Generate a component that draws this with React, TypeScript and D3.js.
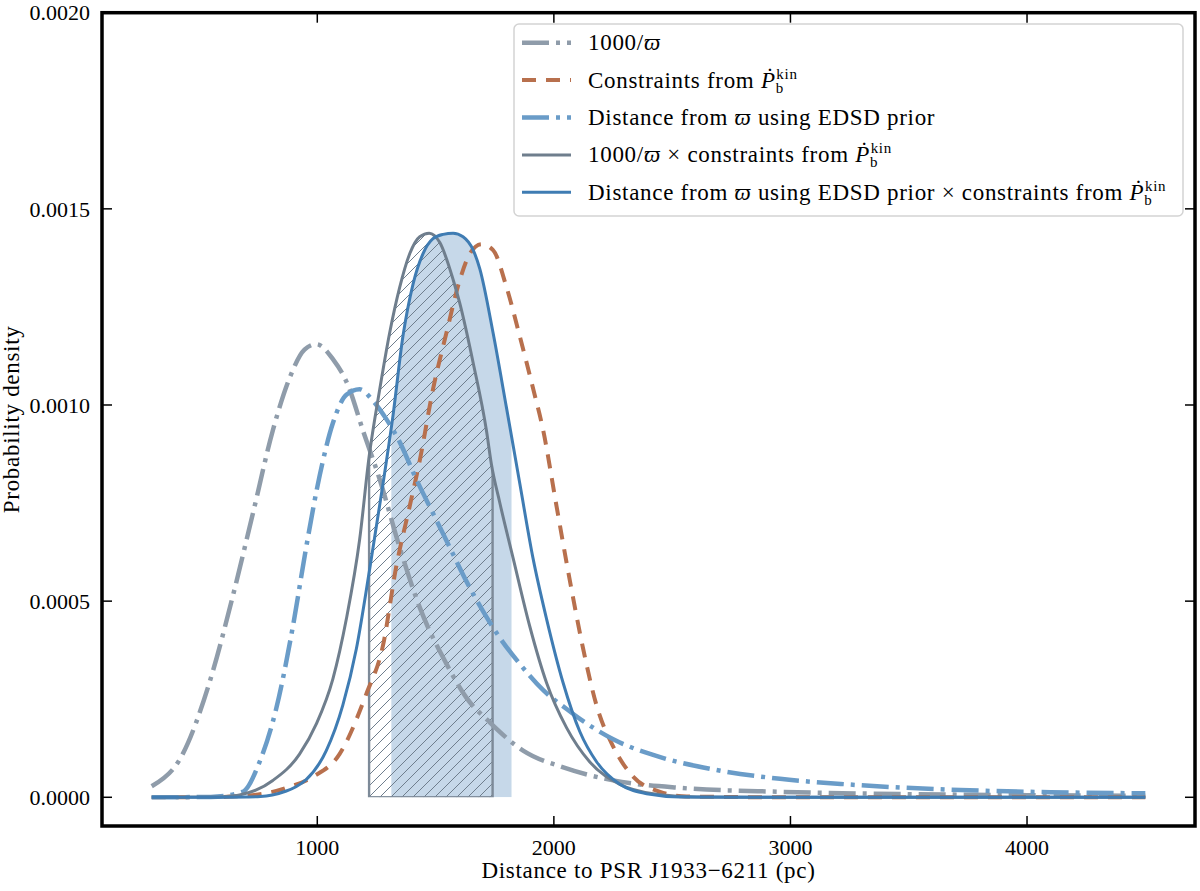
import * as d3 from "d3";

// distance (pc), probability density
const invParallax: [number, number][] = [
  [300, 0.000028], [431, 0.00011], [544, 0.000292], [643, 0.000513], [728, 0.000724],
  [812, 0.000935], [883, 0.001069], [946, 0.001141], [996, 0.001155], [1066, 0.001117],
  [1130, 0.00105], [1193, 0.000935], [1264, 0.00081], [1348, 0.000637], [1433, 0.000484],
  [1546, 0.00034], [1630, 0.000254], [1729, 0.000191], [1870, 0.000119], [2040, 0.000076],
  [2251, 0.000043], [2533, 0.000024], [2956, 0.000014], [3500, 0.000008], [4000, 0.0000055],
  [4500, 0.000004],
];

const pbdotConstraint: [number, number][] = [
  [300, 0], [600, 0.000001], [700, 0.000004], [780, 0.00001], [869, 0.000024], [981, 0.000052],
  [1094, 0.00011], [1207, 0.000263], [1278, 0.000388], [1334, 0.000589], [1391, 0.000743],
  [1433, 0.000858], [1489, 0.00104], [1546, 0.001184], [1602, 0.001318], [1645, 0.001386],
  [1694, 0.00141], [1743, 0.001395], [1800, 0.0013], [1856, 0.001175], [1913, 0.00104],
  [1955, 0.000935], [2011, 0.000743], [2068, 0.000551], [2124, 0.000378], [2180, 0.000235],
  [2251, 0.000129], [2336, 0.000052], [2449, 0.000014], [2562, 0.000002], [3000, 0], [4500, 0],
];

const edsdDistance: [number, number][] = [
  [300, 0], [550, 0.000001], [685, 0.000014], [756, 0.00009], [826, 0.000225],
  [897, 0.000436], [953, 0.000637], [1010, 0.00082], [1066, 0.000954], [1123, 0.001026],
  [1179, 0.00104], [1235, 0.001011], [1292, 0.000964], [1348, 0.000906], [1419, 0.00081],
  [1489, 0.000724], [1560, 0.000637], [1630, 0.000551], [1701, 0.000474], [1771, 0.000407],
  [1856, 0.00034], [1955, 0.000273], [2054, 0.000225], [2110, 0.0002], [2251, 0.000148],
  [2463, 0.0001], [2674, 0.000071], [2956, 0.000047], [3238, 0.000033], [3718, 0.0000186],
  [4100, 0.000013], [4500, 0.00001],
];

const invParallaxCombined: [number, number][] = [
  [300, 0], [560, 0.0000005], [615, 0.000002], [671, 0.000006], [740, 0.000018],
  [812, 0.000043], [925, 0.00011], [996, 0.000187], [1066, 0.000302], [1123, 0.000455],
  [1179, 0.000657], [1219, 0.000868], [1264, 0.00104], [1306, 0.001184], [1348, 0.001299],
  [1391, 0.001386], [1433, 0.001429], [1473, 0.001438], [1518, 0.001414], [1574, 0.00132],
  [1602, 0.00126], [1659, 0.001107], [1715, 0.000935], [1736, 0.000849], [1771, 0.000752],
  [1828, 0.000609], [1898, 0.000436], [1969, 0.000292], [2054, 0.000177], [2152, 0.00009],
  [2279, 0.000033], [2420, 0.000009], [2604, 0.000001], [3000, 0], [4500, 0],
];

const edsdCombined: [number, number][] = [
  [300, 0], [640, 0.0000002], [700, 0.0000006], [760, 0.0000018], [810, 0.000006],
  [869, 0.000016], [910, 0.000027], [953, 0.000045], [1038, 0.000119], [1108, 0.000235],
  [1165, 0.000378], [1221, 0.00058], [1278, 0.0008], [1320, 0.000973], [1362, 0.001175],
  [1405, 0.001309], [1447, 0.001386], [1489, 0.001424], [1532, 0.001435], [1574, 0.001438],
  [1616, 0.001429], [1659, 0.001395], [1687, 0.001347], [1743, 0.001184], [1800, 0.000992],
  [1856, 0.0008], [1912, 0.000609], [1969, 0.000455], [2039, 0.000292], [2110, 0.000167],
  [2181, 0.00009], [2279, 0.000033], [2392, 0.000009], [2533, 0.000001], [3000, 0], [4500, 0],
];

// credible intervals (pc)
const hatchRange = [1219, 1741];
const fillRange = [1313, 1821];

const xTicks = [1000, 2000, 3000, 4000];
const yTicks = [0, 0.0005, 0.001, 0.0015, 0.002];

const width = 1200;
const height = 891;
const left = 102;
const right = 1195;
const top = 12.7;
const bottom = 826;

const font = "'Liberation Serif', 'DejaVu Serif', serif";

const cSlateLight = "#8f9caa";
const cOrange = "#b8704d";
const cBlueLight = "#6a9cc8";
const cSlate = "#6f7e8d";
const cBlue = "#3f7cb3";

function Pdot() {
  return (
    <>
      <tspan fontStyle="italic">Ṗ</tspan>
      <tspan fontSize={15} dy={5}>b</tspan>
      <tspan fontSize={15} dx={-7.5} dy={-14}>kin</tspan>
    </>
  );
}

function Varpi() {
  return <tspan fontStyle="italic">ϖ</tspan>;
}

export default function App() {
  const x = d3.scaleLinear().domain([90, 4710]).range([left, right]);
  const y = d3.scaleLinear().domain([-0.0000732, 0.002]).range([bottom, top]);

  const line = d3
    .line<[number, number]>()
    .x((d) => x(d[0]))
    .y((d) => y(d[1]))
    .curve(d3.curveMonotoneX);

  const area = d3
    .area<[number, number]>()
    .x((d) => x(d[0]))
    .y0(y(0))
    .y1((d) => y(d[1]))
    .curve(d3.curveMonotoneX);

  const series = [
    { key: "a", data: invParallax, color: cSlateLight, w: 4.5, dash: "27,7,4,7" },
    { key: "b", data: pbdotConstraint, color: cOrange, w: 4, dash: "14,10" },
    { key: "c", data: edsdDistance, color: cBlueLight, w: 4.5, dash: "27,7,4,7" },
    { key: "d", data: invParallaxCombined, color: cSlate, w: 3, dash: "" },
    { key: "e", data: edsdCombined, color: cBlue, w: 3, dash: "" },
  ];

  const labels = [
    <>1000/<Varpi /></>,
    <>Constraints from <Pdot /></>,
    <>Distance from <Varpi /> using EDSD prior</>,
    <>1000/<Varpi /> ×  constraints from <Pdot /></>,
    <>Distance from <Varpi /> using EDSD prior × constraints from <Pdot /></>,
  ];

  const legX = 514;
  const legY = 24;
  const rowY = (i: number) => 42.7 + i * 37.4;

  return (
    <div style={{ position: "absolute", left: 0, top: 0 }}>
      <svg width={width} height={height} style={{ display: "block", background: "#fff" }} fontFamily={font}>
        <defs>
          <clipPath id="grayArea">
            <path d={area(invParallaxCombined) || ""} />
          </clipPath>
          <clipPath id="blueArea">
            <path d={area(edsdCombined) || ""} />
          </clipPath>
          <pattern id="hatch" patternUnits="userSpaceOnUse" width={11} height={11}>
            <path d="M0,11 L11,0 M-3,3 L3,-3 M8,14 L14,8" stroke={cSlate} strokeWidth={1} />
          </pattern>
        </defs>

        {/* credible region of the EDSD x Pb constraint */}
        <rect
          x={x(fillRange[0])}
          y={top}
          width={x(fillRange[1]) - x(fillRange[0])}
          height={y(0) - top}
          fill="#c6d8e9"
          clipPath="url(#blueArea)"
        />
        {/* credible region of the 1000/varpi x Pb constraint */}
        <rect
          x={x(hatchRange[0])}
          y={top}
          width={x(hatchRange[1]) - x(hatchRange[0])}
          height={y(0) - top}
          fill="url(#hatch)"
          stroke="#7d8a98"
          strokeWidth={2.4}
          clipPath="url(#grayArea)"
        />

        {series.map((s) => (
          <path
            key={s.key}
            d={line(s.data) || ""}
            fill="none"
            stroke={s.color}
            strokeWidth={s.w}
            strokeDasharray={s.dash || undefined}
          />
        ))}

        {/* ticks */}
        {xTicks.map((t) => (
          <g key={"xt" + t}>
            <line x1={x(t)} x2={x(t)} y1={bottom} y2={bottom - 10} stroke="#000" strokeWidth={1.5} />
            <line x1={x(t)} x2={x(t)} y1={top} y2={top + 10} stroke="#000" strokeWidth={1.5} />
            <text x={x(t)} y={855} textAnchor="middle" fontSize={22}>
              {t}
            </text>
          </g>
        ))}
        {yTicks.map((t) => (
          <g key={"yt" + t}>
            <line x1={left} x2={left + 10} y1={y(t)} y2={y(t)} stroke="#000" strokeWidth={1.5} />
            <line x1={right} x2={right - 10} y1={y(t)} y2={y(t)} stroke="#000" strokeWidth={1.5} />
            <text x={90} y={y(t)} dy="0.35em" textAnchor="end" fontSize={22}>
              {d3.format(".4f")(t)}
            </text>
          </g>
        ))}

        <rect x={left} y={top} width={right - left} height={bottom - top} fill="none" stroke="#000" strokeWidth={3.5} />

        {/* axis labels */}
        <text x={(left + right) / 2} y={878} textAnchor="middle" fontSize={23} letterSpacing={0.7}>
          Distance to PSR J1933−6211 (pc)
        </text>
        <text
          transform={`translate(19,${(top + bottom) / 2}) rotate(-90)`}
          textAnchor="middle"
          fontSize={23}
          letterSpacing={0.7}
        >
          Probability density
        </text>

        {/* legend */}
        <rect x={legX} y={legY} width={669} height={192} rx={5} fill="#fff" fillOpacity={0.8} stroke="#d3d3d3" strokeWidth={1.5} />
        {series.map((s, i) => (
          <g key={"leg" + s.key}>
            <line
              x1={522}
              x2={571}
              y1={rowY(i)}
              y2={rowY(i)}
              stroke={s.color}
              strokeWidth={s.w}
              strokeDasharray={s.dash || undefined}
            />
            <text x={588} y={rowY(i) + 7.5} fontSize={23} letterSpacing={0.7}>
              {labels[i]}
            </text>
          </g>
        ))}
      </svg>
    </div>
  );
}
